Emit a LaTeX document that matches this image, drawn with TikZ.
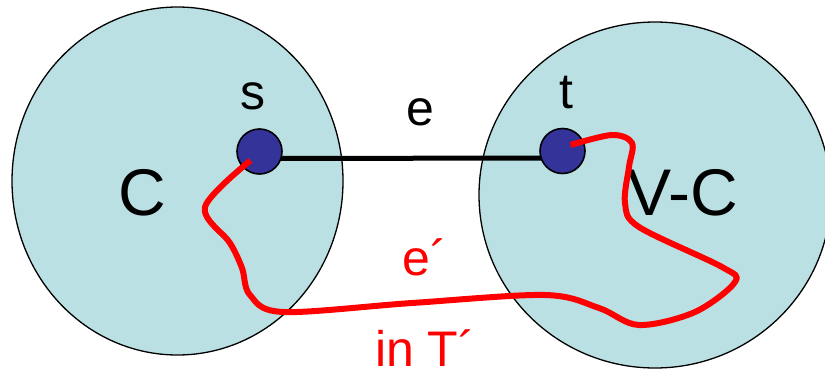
\documentclass[tikz,border=0pt]{standalone}
\usepackage{fontspec}
\setmainfont{Liberation Sans}
\usetikzlibrary{arrows.meta,calc,positioning}
\definecolor{setfill}{RGB}{186,224,227}
\definecolor{vertexblue}{RGB}{51,51,153}

\begin{document}
\begin{tikzpicture}[x=1pt,y=-1pt,
  setshape/.style={draw=black,line width=1.3pt,fill=setfill},
  vertex/.style={circle,draw=black,line width=1.6pt,fill=vertexblue,minimum size=45pt,inner sep=0pt},
  lbl/.style={font=\fontsize{50}{52}\selectfont,anchor=base,inner sep=0pt},
  biglbl/.style={font=\fontsize{66}{68}\selectfont,anchor=base,inner sep=0pt},
  cutedge/.style={line width=5pt,black},
  treepath/.style={line width=6pt,red,line join=round}]
\useasboundingbox (0,0) rectangle (825,370);

% The two sides of the cut
\draw[setshape] (177.5,181) ellipse [x radius=165.5, y radius=174];
\draw[setshape] (655,195) ellipse [x radius=176, y radius=173];
\node[biglbl] (Clabel) at (142,215) {C};
\node[biglbl] (VClabel) at (683,215) {V-C};

% Edge e across the cut
\coordinate (sp) at (259.5,151.5);
\coordinate (tp) at (562.5,151);
\draw[cutedge,transform canvas={yshift=-7pt}] (sp) -- (tp);
\node[vertex] (s) at (sp) {};
\node[vertex] (t) at (tp) {};
\node[lbl] (slabel) at (253,109) {s};
\node[lbl] (tlabel) at (566,108) {t};
\node[lbl] (elabel) at (420,125) {e};

% Path in T'
\draw[treepath] plot[smooth,tension=0.55] coordinates {
  ([shift={(-9,9)}]s.center) (205,207) (230,243) (242,268) (250,295)
  (283,312) (412,303) (545,295) (599,308) (639,325) (695,312)
  (735,282) (722,267) (639,227) (625,203) (629,167) (632,143)
  (612,135) ([shift={(8,-6)}]t.center)};
\node[lbl,red] (eplabel) at (425,275) {e´};
\node[lbl,red] (Tlabel) at (425,366) {in T´};
\end{tikzpicture}
\end{document}
